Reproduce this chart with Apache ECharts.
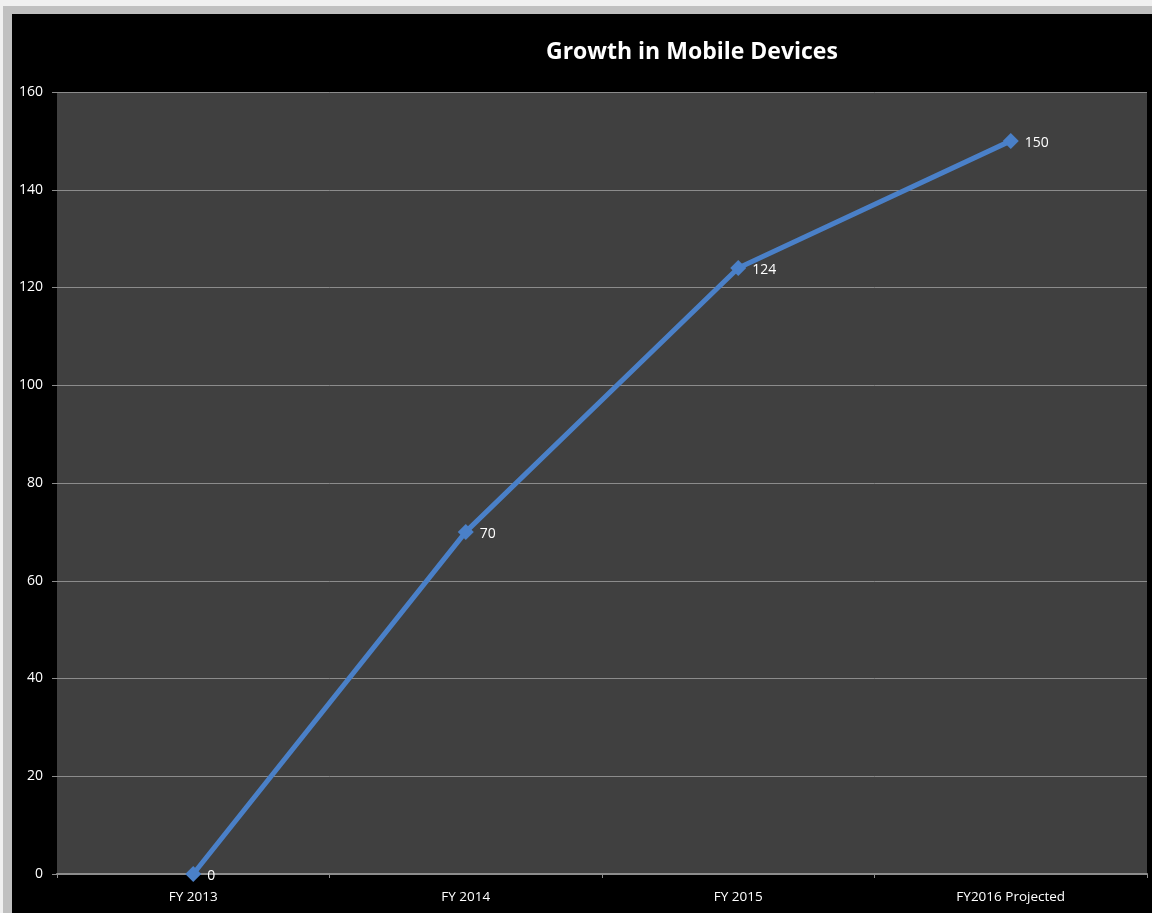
<!DOCTYPE html>
<html>
<head>
<meta charset="utf-8">
<script src="https://cdn.jsdelivr.net/npm/echarts@6/dist/echarts.min.js"></script>
<style>
  html, body { margin: 0; padding: 0; background: #f0f0f0; }
  #frame { position: absolute; left: 3px; top: 6px; width: 1149px; height: 907px; background: #c0c0c0; }
  #main { position: absolute; left: 12px; top: 14px; width: 1140px; height: 899px; background: #000; }
</style>
</head>
<body>
<div id="frame"></div>
<div id="main"></div>
<script>
// chart data
const categories = ['FY 2013', 'FY 2014', 'FY 2015', 'FY2016 Projected'];
const devices = [0, 70, 124, 150];
const yTicks = { min: 0, max: 160, step: 20 };

const font = "'Liberation Sans Narrow', 'Open Sans', sans-serif";

let myChart = echarts.init(document.getElementById('main'));
let option = {
  backgroundColor: '#000',
  animation: false,
  title: {
    text: 'Growth in Mobile Devices',
    left: 529,
    top: 22,
    textStyle: { color: '#fff', fontSize: 23, fontWeight: 'bold', fontFamily: "'Open Sans', sans-serif" }
  },
  grid: {
    left: 45, top: 78, right: 5, bottom: 39,
    show: true,
    backgroundColor: '#404040',
    borderWidth: 0
  },
  xAxis: {
    type: 'category',
    data: categories,
    boundaryGap: true,
    axisLine: { lineStyle: { color: '#8c8c8c', width: 2 } },
    axisTick: { show: true, length: 4, lineStyle: { color: '#8c8c8c' } },
    axisLabel: { color: '#fff', fontSize: 13.5, fontFamily: font, margin: 16 }
  },
  yAxis: {
    type: 'value',
    min: yTicks.min,
    max: yTicks.max,
    interval: yTicks.step,
    axisLine: { show: false },
    axisTick: { show: true, length: 5, lineStyle: { color: '#8c8c8c' } },
    axisLabel: { color: '#fff', fontSize: 14, fontFamily: font, margin: 14 },
    splitLine: { lineStyle: { color: '#8c8c8c', width: 1 } }
  },
  series: [{
    type: 'line',
    data: devices,
    symbol: 'diamond',
    symbolSize: 16,
    lineStyle: { color: '#4a80c8', width: 5 },
    itemStyle: { color: '#4a80c8' },
    label: {
      show: true,
      position: 'right',
      distance: 6,
      color: '#fff',
      fontSize: 14,
      fontFamily: font,
      offset: [0, 2]
    }
  }]
};
myChart.setOption(option);
</script>
</body>
</html>
